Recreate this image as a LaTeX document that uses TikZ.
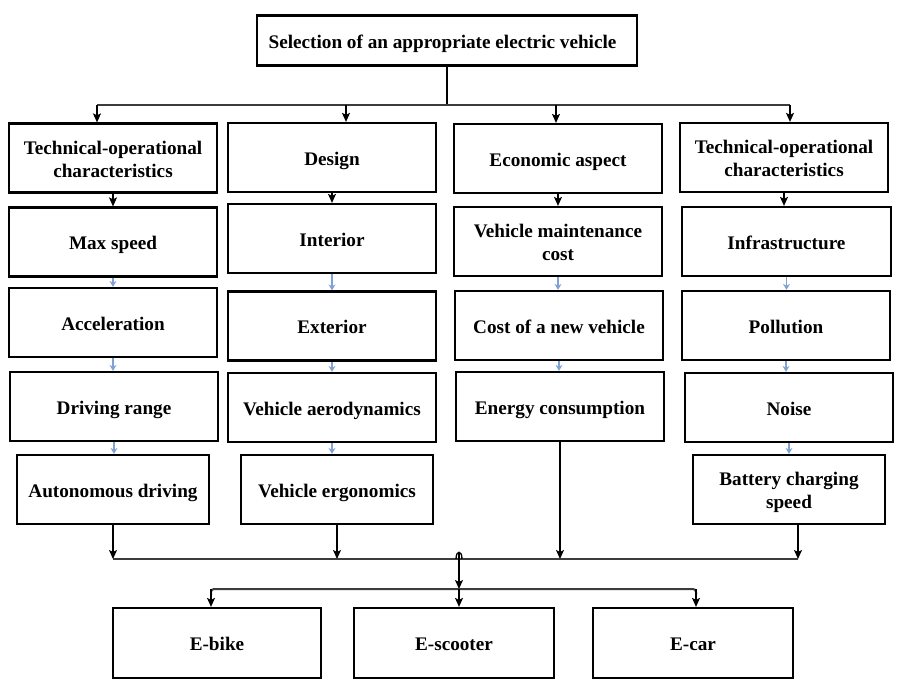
\documentclass[tikz,border=0pt]{standalone}
\usepackage{fontspec}
\setmainfont{Liberation Serif}
\usetikzlibrary{arrows.meta,calc}

\definecolor{lblue}{RGB}{128,162,210}
\definecolor{busgray}{RGB}{60,60,60}
\newcommand\lbl[2][6.6pt]{\raisebox{0pt}[\dimexpr\height+#1\relax][\depth]{\begin{tabular}{@{}c@{}}#2\end{tabular}}}
\tikzset{
  box/.style={draw, line width=2.2pt, inner sep=0pt,
    minimum height=69pt, font=\fontsize{19.2}{23}\selectfont\bfseries},
  arr/.style={-{Stealth[length=9pt,width=8pt,inset=2pt]}, line width=1.3pt},
  barr/.style={-{Stealth[open,length=6pt,width=7pt]}, line width=1.2pt, lblue},
  bus/.style={line width=2pt, busgray}
}

\begin{document}
\begin{tikzpicture}[x=1pt, y=-1pt]
\useasboundingbox (0,0) rectangle (899,692);

\node[box, minimum width=380pt, minimum height=50pt] (top) at (447,40.5) {\lbl{Selection of an appropriate electric vehicle}\hspace*{9pt}};

% the four columns
\foreach \n/\x/\y/\w/\t in {
  c1h/113/158/208/{Technical-operational\\characteristics},
  c1a/113/242/208/{Max speed},
  c1b/113/322.5/208/{Acceleration},
  c1c/114/406.5/208/{Driving range},
  c1d/113/489.5/192/{Autonomous driving},
  c2h/332/157.5/208/{Design},
  c2a/332/238.5/208/{Interior},
  c2b/332/326/208/{Exterior},
  c2c/332/407.5/208/{Vehicle aerodynamics},
  c2d/337/489.5/192/{Vehicle ergonomics},
  c3h/558/158.5/208/{Economic aspect},
  c3a/558/241.5/208/{Vehicle maintenance\\cost},
  c3b/559/325.5/208/{Cost of a new vehicle},
  c3c/560/406.5/208/{Energy consumption},
  c4h/784/157.5/208/{Technical-operational\\characteristics},
  c4a/786.5/241.5/209/{Infrastructure},
  c4b/786/325.5/208/{Pollution},
  c4c/789/407.5/208/{Noise},
  c4d/789/489.5/192/{Battery charging\\speed}}
  \node[box, minimum width=\w pt] (\n) at (\x,\y) {\lbl{\t}};

% vehicles
\node[box, minimum width=208pt, minimum height=70pt] (ebike) at (217,643) {\lbl[5pt]{E-bike}};
\node[box, minimum width=200pt, minimum height=70pt] (escooter) at (454,643) {\lbl[5pt]{E-scooter}};
\node[box, minimum width=200pt, minimum height=70pt] (ecar) at (693,643) {\lbl[5pt]{E-car}};

% top split
\coordinate (busL) at (97,105);
\coordinate (busR) at (790,105);
\coordinate (b2) at (346,105);
\coordinate (b3) at (556,105);
\draw[line width=1.3pt] (top.south) -- (top.south |- busL);
\draw[bus, line width=1.6pt] (busL) -- (busR);
\draw[arr] (busL) -- (busL |- c1h.north);
\draw[arr] (b2) -- (b2 |- c2h.north);
\draw[arr] (b3) -- (b3 |- c3h.north);
\draw[arr] (busR) -- (busR |- c4h.north);

% down each column
\foreach \c in {1,2,3,4}
  \draw[arr] (c\c h.south) -- (c\c h.south |- c\c a.north);
\foreach \a/\b in {c1a/c1b, c1b/c1c, c1c/c1d, c2a/c2b, c2b/c2c, c2c/c2d,
  c3a/c3b, c3b/c3c, c4a/c4b, c4b/c4c, c4c/c4d}
  \draw[barr] (\a.south) -- (\a.south |- \b.north);

% join
\coordinate (q1) at (113,559);
\coordinate (q2) at (798,559);
\coordinate (hub) at (459,559);
\coordinate (hub2) at (459,589);
\draw[arr] (c1d.south) -- (c1d.south |- q1);
\draw[arr] (c2d.south) -- (c2d.south |- q1);
\draw[arr] (c3c.south) -- (c3c.south |- q1);
\draw[arr] ($(c4d.south)+(9,0)$) -- (q2);
\draw[bus] (q1) -- (q2);
\draw[line width=1.3pt] ($(hub)+(-3,0)$) .. controls ($(hub)+(-3,-9)$) and ($(hub)+(3,-9)$) .. ($(hub)+(3,0)$);
\draw[arr] ($(hub)+(0,-6)$) -- (hub2);

\coordinate (d1) at (211,589);
\coordinate (d3) at (696,589);
\draw[bus, rounded corners=3pt] (d1 |- ebike.north) ++(0,-12) -- (d1) -- (d3) -- ++(0,6);
\draw[arr] (d1) -- (d1 |- ebike.north);
\draw[arr] (hub2) -- (hub2 |- escooter.north);
\draw[arr] (d3) -- (d3 |- ecar.north);
\end{tikzpicture}
\end{document}
